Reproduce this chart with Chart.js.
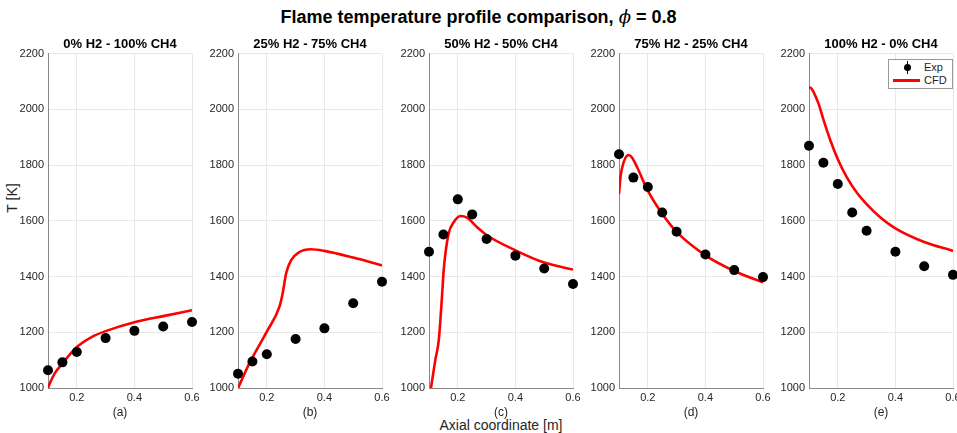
<!DOCTYPE html>
<html>
<head>
<meta charset="utf-8">
<script src="https://cdn.jsdelivr.net/npm/chart.js@4/dist/chart.umd.min.js"></script>
<style>
  body { margin: 0; width: 957px; height: 433px; overflow: hidden; background: #fff; position: relative;
         font-family: 'Liberation Sans', Arial, sans-serif; color: #000; }
  .panel { position: absolute; top: 35px; width: 206px; height: 393px; }
  .main-title { position: absolute; top: 6px; left: 0; width: 957px; text-align: center; font-weight: bold; font-size: 18px; }
  .x-label { position: absolute; top: 417px; left: 301px; width: 400px; text-align: center; font-size: 14px; color: #262626; }
  .y-label { position: absolute; left: 12px; top: 198px; font-size: 14px; color: #262626;
             transform: translate(-50%, -50%) rotate(-90deg); white-space: nowrap; }
  .legend { position: absolute; left: 888px; top: 59px; width: 63px; height: 28px; border: 1px solid #9a9a9a; background: #fff;
            font-size: 11px; color: #262626; z-index: 5; }
  .leg-item { position: absolute; left: 0; height: 13px; line-height: 13px; }
  .leg-dot { position: absolute; left: 15px; top: 3px; width: 7px; height: 7px; border-radius: 50%; background: #000; }
  .leg-bar { position: absolute; left: 18px; top: 0; width: 1px; height: 13px; background: #000; }
  .leg-line { position: absolute; left: 4px; top: 5px; width: 27px; height: 3px; background: #ff0000; }
  .leg-text { position: absolute; left: 35px; }
</style>
</head>
<body>
<div class="main-title">Flame temperature profile comparison, <i style="font-family:'DejaVu Serif',serif;font-weight:normal">ϕ</i> = 0.8</div>
<div class="y-label">T [K]</div>
<div class="x-label">Axial coordinate [m]</div>
<div class="legend" id="legend"></div>

<script>
// ── Dados ────────────────────────────────────────────────────
const TITLES  = ['0% H2 - 100% CH4', '25% H2 - 75% CH4', '50% H2 - 50% CH4', '75% H2 - 25% CH4', '100% H2 - 0% CH4'];
const LETTERS = ['(a)', '(b)', '(c)', '(d)', '(e)'];
const X_TICKS = [0.2, 0.4, 0.6];

// pontos experimentais (a e b não têm 0.25)
const EXP_X_7 = [0.1, 0.15, 0.2, 0.3, 0.4, 0.5, 0.6];
const EXP_X_8 = [0.1, 0.15, 0.2, 0.25, 0.3, 0.4, 0.5, 0.6];
const EXP_A = [1064, 1092, 1129, 1179, 1205, 1221, 1237];
const EXP_B = [1051, 1095, 1121, 1176, 1214, 1304, 1381];
const EXP_C = [1489, 1551, 1677, 1623, 1535, 1475, 1429, 1373];
const EXP_D = [1839, 1755, 1721, 1630, 1561, 1479, 1423, 1398];
const EXP_E = [1869, 1808, 1732, 1630, 1564, 1489, 1437, 1406];

// curvas CFD
const CFD_A_X = [0.1, 0.11, 0.125, 0.15, 0.2, 0.25, 0.3, 0.4, 0.5, 0.6];
const CFD_A_Y = [1000, 1025, 1055, 1088, 1147, 1182, 1204, 1236, 1258, 1279];
const CFD_B_X = [0.1, 0.14, 0.2, 0.244, 0.255, 0.267, 0.284, 0.313, 0.353, 0.4, 0.5, 0.6];
const CFD_B_Y = [1000, 1089, 1202, 1292, 1339, 1411, 1458, 1488, 1498, 1492, 1468, 1440];
const CFD_C_X = [0.107, 0.115, 0.122, 0.134, 0.145, 0.151, 0.157, 0.168, 0.186, 0.209, 0.232, 0.267, 0.301, 0.4, 0.5, 0.6];
const CFD_C_Y = [1000, 1055, 1101, 1173, 1327, 1423, 1482, 1554, 1595, 1617, 1611, 1577, 1548, 1494, 1450, 1425];
const CFD_D_X = [0.1, 0.105, 0.116, 0.134, 0.145, 0.163, 0.2, 0.25, 0.3, 0.4, 0.5, 0.6];
const CFD_D_Y = [1696, 1756, 1810, 1836, 1827, 1792, 1708, 1625, 1560, 1476, 1420, 1379];
const CFD_E_X = [0.1, 0.107, 0.116, 0.134, 0.151, 0.174, 0.2, 0.232, 0.267, 0.3, 0.348, 0.4, 0.5, 0.6];
const CFD_E_Y = [2080, 2076, 2062, 2018, 1960, 1889, 1821, 1755, 1700, 1660, 1612, 1573, 1524, 1492];

const EXP_SETS = [[EXP_X_7, EXP_A], [EXP_X_7, EXP_B], [EXP_X_8, EXP_C], [EXP_X_8, EXP_D], [EXP_X_8, EXP_E]];
const CFD_SETS = [[CFD_A_X, CFD_A_Y], [CFD_B_X, CFD_B_Y], [CFD_C_X, CFD_C_Y], [CFD_D_X, CFD_D_Y], [CFD_E_X, CFD_E_Y]];

// ── Layout ───────────────────────────────────────────────────
const PLOT_LEFT  = [48, 238, 429, 619, 809];   // borda esquerda de cada eixo (px)
const AXIS_W     = 48;
const TICK_FONT  = { family: "'Liberation Sans', Arial", size: 11 };
const TICK_COLOR = '#262626';
const GRID_COLOR = '#e8e8e8';
const AXIS_COLOR = '#8a8a8a';

const charts = {};
const toPts = (xs, ys) => xs.map((x, i) => ({ x, y: ys[i] }));

function renderPanel(i) {
  const wrap = document.createElement('div');
  wrap.className = 'panel';
  wrap.style.left = (PLOT_LEFT[i] - AXIS_W) + 'px';
  const canvas = document.createElement('canvas');
  wrap.appendChild(canvas);
  document.body.appendChild(wrap);

  const [ex, ey] = EXP_SETS[i];
  const [cx, cy] = CFD_SETS[i];

  charts[i] = new Chart(canvas, {
    type: 'scatter',
    data: {
      datasets: [
        {
          label: 'CFD',
          data: toPts(cx, cy),
          showLine: true,
          borderColor: '#ff0000',
          borderWidth: 2.6,
          pointRadius: 0,
          cubicInterpolationMode: 'monotone',
          order: 2,
        },
        {
          label: 'Exp',
          data: toPts(ex, ey),
          backgroundColor: '#000',
          borderColor: '#000',
          borderWidth: 0,
          pointRadius: 5,
          clip: false,
          order: 1,
        },
      ],
    },
    options: {
      responsive: true, maintainAspectRatio: false, animation: false,
      layout: { padding: { left: 0, right: 14, top: 0, bottom: 0 } },
      plugins: {
        legend: { display: false },
        tooltip: { enabled: false },
        title: {
          display: true, text: TITLES[i], color: '#000', fullSize: false,
          font: { family: "'Liberation Sans', Arial", size: 13, weight: 'bold' },
          padding: { top: 2, bottom: 1 },
        },
      },
      scales: {
        x: {
          type: 'linear', min: 0.1, max: 0.6,
          afterBuildTicks: s => { s.ticks = X_TICKS.map(v => ({ value: v })); },
          afterFit: s => { s.height = 40; },
          ticks: { font: TICK_FONT, color: TICK_COLOR, padding: 3, maxRotation: 0, callback: v => v.toFixed(1) },
          grid: { color: GRID_COLOR, drawTicks: false },
          border: { display: true, color: AXIS_COLOR, width: 1 },
          title: {
            display: true, text: LETTERS[i], color: TICK_COLOR,
            font: { family: "'Liberation Sans', Arial", size: 12 },
            padding: { top: 0, bottom: 8 },
          },
        },
        y: {
          min: 1000, max: 2200,
          afterFit: s => { s.width = AXIS_W; },
          ticks: { font: TICK_FONT, color: TICK_COLOR, stepSize: 200, padding: 4, callback: v => String(v) },
          grid: { color: GRID_COLOR, drawTicks: false },
          border: { display: true, color: AXIS_COLOR, width: 1 },
        },
      },
    },
  });
}

// ── Legenda (só no último painel) ────────────────────────────
function renderLegend() {
  document.getElementById('legend').innerHTML =
    `<div class="leg-item" style="top:1px;width:63px"><div class="leg-bar"></div><div class="leg-dot"></div><span class="leg-text">Exp</span></div>` +
    `<div class="leg-item" style="top:14px;width:63px"><div class="leg-line"></div><span class="leg-text">CFD</span></div>`;
}

TITLES.forEach((_, i) => renderPanel(i));
renderLegend();
</script>
</body>
</html>
